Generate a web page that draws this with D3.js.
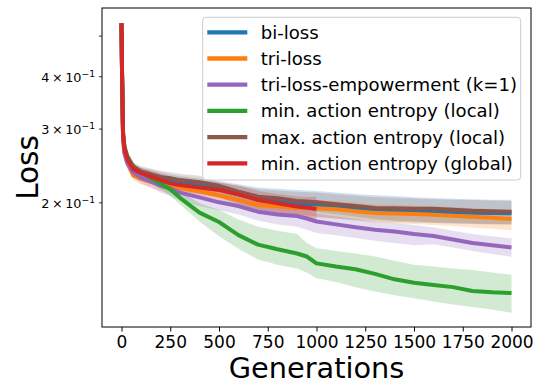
<!DOCTYPE html>
<html><head><meta charset="utf-8">
<script src="https://cdn.jsdelivr.net/npm/d3@7"></script>
<style>
body{margin:0;background:#fff;}
svg{font-family:"DejaVu Sans",sans-serif;display:block;}
</style></head>
<body><svg id="c" width="540" height="385"></svg>
<script>
const generations = [0, 3, 8, 15, 30, 60, 100, 150, 200, 250, 300, 400, 500, 600, 700, 800, 900, 950, 1000, 1100, 1200, 1300, 1400, 1500, 1600, 1700, 1800, 1900, 2000];

const biLossMean  = [0.535, 0.40, 0.29, 0.268, 0.252, 0.241, 0.235, 0.231, 0.228, 0.225, 0.223, 0.219, 0.215, 0.209, 0.204, 0.2015, 0.199, 0.198, 0.197, 0.1955, 0.194, 0.1925, 0.1915, 0.1908, 0.19, 0.1895, 0.189, 0.1885, 0.1883];
const biLossUpper = [0.54, 0.41, 0.297, 0.274, 0.258, 0.247, 0.242, 0.239, 0.236, 0.233, 0.231, 0.228, 0.225, 0.221, 0.217, 0.2155, 0.214, 0.2135, 0.213, 0.211, 0.2095, 0.208, 0.207, 0.2058, 0.2048, 0.204, 0.2035, 0.203, 0.2028];
const biLossLower = [0.53, 0.39, 0.283, 0.262, 0.246, 0.235, 0.228, 0.223, 0.22, 0.217, 0.215, 0.21, 0.206, 0.198, 0.192, 0.189, 0.187, 0.186, 0.185, 0.183, 0.1815, 0.1805, 0.1795, 0.179, 0.1785, 0.178, 0.1775, 0.177, 0.1768];

const triLossMean  = [0.535, 0.40, 0.285, 0.262, 0.248, 0.232, 0.2275, 0.224, 0.220, 0.2175, 0.2165, 0.2125, 0.208, 0.2025, 0.197, 0.1955, 0.194, 0.1938, 0.1935, 0.1925, 0.1905, 0.1885, 0.188, 0.1875, 0.1868, 0.1858, 0.1848, 0.1838, 0.1825];
const triLossUpper = [0.54, 0.41, 0.292, 0.268, 0.254, 0.238, 0.234, 0.231, 0.227, 0.225, 0.224, 0.220, 0.216, 0.211, 0.206, 0.2045, 0.203, 0.2028, 0.2025, 0.2015, 0.1995, 0.1975, 0.197, 0.1965, 0.1958, 0.1948, 0.1938, 0.1928, 0.1915];
const triLossLower = [0.53, 0.39, 0.278, 0.256, 0.242, 0.226, 0.221, 0.217, 0.213, 0.210, 0.209, 0.205, 0.200, 0.194, 0.188, 0.186, 0.1845, 0.1842, 0.1838, 0.1828, 0.1808, 0.1788, 0.1782, 0.1775, 0.1765, 0.1755, 0.1742, 0.173, 0.1717];

const empowermentMean  = [0.535, 0.40, 0.285, 0.262, 0.248, 0.236, 0.229, 0.2245, 0.219, 0.216, 0.211, 0.2055, 0.200, 0.196, 0.190, 0.187, 0.1855, 0.183, 0.180, 0.1772, 0.1745, 0.172, 0.1703, 0.168, 0.1662, 0.163, 0.160, 0.158, 0.1561];
const empowermentUpper = [0.54, 0.41, 0.292, 0.268, 0.254, 0.242, 0.236, 0.232, 0.227, 0.224, 0.219, 0.2135, 0.2075, 0.2035, 0.198, 0.195, 0.1935, 0.191, 0.188, 0.185, 0.1825, 0.18, 0.1785, 0.1765, 0.1745, 0.171, 0.168, 0.166, 0.1641];
const empowermentLower = [0.53, 0.39, 0.278, 0.256, 0.242, 0.230, 0.222, 0.217, 0.211, 0.207, 0.202, 0.196, 0.1915, 0.187, 0.181, 0.177, 0.175, 0.172, 0.169, 0.167, 0.1645, 0.162, 0.160, 0.158, 0.1588, 0.156, 0.153, 0.1505, 0.1483];

const minLocalMean  = [0.535, 0.40, 0.295, 0.272, 0.258, 0.244, 0.236, 0.229, 0.2215, 0.215, 0.205, 0.189, 0.1795, 0.167, 0.1585, 0.1545, 0.151, 0.1485, 0.143, 0.1405, 0.1385, 0.135, 0.131, 0.1285, 0.127, 0.1255, 0.1228, 0.122, 0.1215];
const minLocalUpper = [0.54, 0.41, 0.30, 0.277, 0.262, 0.248, 0.240, 0.233, 0.227, 0.221, 0.213, 0.199, 0.192, 0.182, 0.175, 0.171, 0.168, 0.160, 0.1555, 0.153, 0.151, 0.1485, 0.145, 0.142, 0.1405, 0.139, 0.1378, 0.136, 0.1344];
const minLocalLower = [0.53, 0.39, 0.29, 0.267, 0.253, 0.239, 0.231, 0.224, 0.215, 0.207, 0.198, 0.180, 0.166, 0.155, 0.146, 0.142, 0.139, 0.136, 0.1317, 0.129, 0.1255, 0.1225, 0.120, 0.118, 0.116, 0.114, 0.1125, 0.111, 0.109];

const maxLocalMean  = [0.535, 0.40, 0.29, 0.27, 0.255, 0.243, 0.237, 0.2335, 0.230, 0.2282, 0.226, 0.2235, 0.219, 0.212, 0.2063, 0.2045, 0.2015, 0.201, 0.200, 0.1978, 0.196, 0.194, 0.1935, 0.1932, 0.193, 0.192, 0.191, 0.1905, 0.190];
const maxLocalUpper = [0.54, 0.41, 0.297, 0.276, 0.261, 0.249, 0.244, 0.241, 0.238, 0.236, 0.234, 0.2315, 0.2235, 0.219, 0.215, 0.2135, 0.212, 0.2115, 0.211, 0.209, 0.2075, 0.206, 0.205, 0.2042, 0.2035, 0.203, 0.2025, 0.202, 0.2015];
const maxLocalLower = [0.53, 0.39, 0.283, 0.264, 0.249, 0.237, 0.230, 0.226, 0.222, 0.220, 0.218, 0.215, 0.212, 0.203, 0.197, 0.195, 0.192, 0.191, 0.190, 0.1875, 0.185, 0.1825, 0.181, 0.180, 0.179, 0.1785, 0.178, 0.1775, 0.1775];

const minGlobalGenerations = generations.slice(0, 19);
const minGlobalMean  = [0.535, 0.40, 0.29, 0.27, 0.253, 0.240, 0.235, 0.2303, 0.226, 0.222, 0.220, 0.217, 0.214, 0.209, 0.2025, 0.1989, 0.1955, 0.1945, 0.1928];
const minGlobalUpper = [0.54, 0.41, 0.298, 0.277, 0.26, 0.247, 0.242, 0.238, 0.234, 0.230, 0.228, 0.2255, 0.223, 0.219, 0.213, 0.2095, 0.2065, 0.206, 0.2063];
const minGlobalLower = [0.53, 0.39, 0.282, 0.263, 0.246, 0.233, 0.228, 0.223, 0.218, 0.214, 0.212, 0.209, 0.205, 0.199, 0.192, 0.188, 0.184, 0.1825, 0.1815];

const seriesNames = ["bi-loss", "tri-loss", "tri-loss-empowerment (k=1)", "min. action entropy (local)", "max. action entropy (local)", "min. action entropy (global)"];
const seriesColors = ["#1f77b4", "#ff7f0e", "#9467bd", "#2ca02c", "#8c564b", "#d62728"];

const xTickValues = [0, 250, 500, 750, 1000, 1250, 1500, 1750, 2000];
const yTickValues = [0.2, 0.3, 0.4, 0.5];
const yTickMantissas = ["2", "3", "4", ""];

const series = [
  {g: generations, m: biLossMean, u: biLossUpper, l: biLossLower},
  {g: generations, m: triLossMean, u: triLossUpper, l: triLossLower},
  {g: generations, m: empowermentMean, u: empowermentUpper, l: empowermentLower},
  {g: generations, m: minLocalMean, u: minLocalUpper, l: minLocalLower},
  {g: generations, m: maxLocalMean, u: maxLocalUpper, l: maxLocalLower},
  {g: minGlobalGenerations, m: minGlobalMean, u: minGlobalUpper, l: minGlobalLower}
].map((s, i) => ({name: seriesNames[i], color: seriesColors[i],
  pts: s.g.map((gen, j) => ({gen, m: s.m[j], u: s.u[j], l: s.l[j]}))}));

const L = 102, R = 531, T = 8, B = 327;
const svg = d3.select("#c");
const x = d3.scaleLinear().domain([-100, 2100]).range([L, R]);
const y = d3.scaleLog().domain([0.1008, 0.582]).range([B, T]);

const clip = svg.append("defs").append("clipPath").attr("id", "pc");
clip.append("rect").attr("x", L).attr("y", T).attr("width", R - L).attr("height", B - T);
const plot = svg.append("g").attr("clip-path", "url(#pc)");

const area = d3.area().x(d => x(d.gen)).y0(d => y(d.l)).y1(d => y(d.u));
const line = d3.line().x(d => x(d.gen)).y(d => y(d.m));

series.forEach(s => {
  plot.append("path").attr("d", area(s.pts)).attr("fill", s.color).attr("fill-opacity", 0.22).attr("stroke", "none");
});
series.forEach(s => {
  plot.append("path").attr("d", line(s.pts)).attr("fill", "none").attr("stroke", s.color)
    .attr("stroke-width", 4).attr("stroke-linejoin", "round");
});

// axes
const xAxis = svg.append("g").attr("transform", `translate(0,${B})`)
  .call(d3.axisBottom(x).tickValues(xTickValues).tickSize(4.5).tickPadding(4).tickFormat(d3.format("d")));
xAxis.select(".domain").remove();
xAxis.selectAll("line").attr("stroke", "#000").attr("stroke-width", 1);
xAxis.selectAll("text").attr("font-size", 17).attr("fill", "#000").attr("font-family", "DejaVu Sans");

const yAxis = svg.append("g").attr("transform", `translate(${L},0)`)
  .call(d3.axisLeft(y).tickValues(yTickValues).tickSize(3).tickPadding(4).tickFormat(() => ""));
yAxis.select(".domain").remove();
yAxis.selectAll("line").attr("stroke", "#000").attr("stroke-width", 0.8);
yAxis.selectAll(".tick text").each(function(d, i) {
  const t = d3.select(this).attr("font-size", 12.8).attr("fill", "#000").attr("font-family", "DejaVu Sans").attr("dy", "0.42em");
  if (!yTickMantissas[i]) return;
  t.append("tspan").text(yTickMantissas[i] + "\u2009\u00d7\u200910");
  t.append("tspan").attr("font-size", 9.2).attr("dy", "-0.55em").text("\u22121");
});

svg.append("rect").attr("x", L).attr("y", T).attr("width", R - L).attr("height", B - T)
  .attr("fill", "none").attr("stroke", "#000").attr("stroke-width", 1);

svg.append("text").attr("x", (L + R) / 2).attr("y", 377.5).attr("text-anchor", "middle")
  .attr("font-size", 28.8).attr("fill", "#000").text("Generations");
svg.append("text").attr("transform", `translate(38,${(T + B) / 2}) rotate(-90)`).attr("text-anchor", "middle")
  .attr("font-size", 29.5).attr("fill", "#000").text("Loss");

// legend
const lg = svg.append("g");
lg.append("rect").attr("x", 202.7).attr("y", 17.3).attr("width", 318).attr("height", 162.7).attr("rx", 3.5)
  .attr("fill", "#fff").attr("fill-opacity", 0.8).attr("stroke", "#cccccc").attr("stroke-width", 1);
series.forEach((s, i) => {
  const cy = 32.3 + i * 26.2;
  lg.append("line").attr("x1", 207.3).attr("x2", 247.3).attr("y1", cy).attr("y2", cy)
    .attr("stroke", s.color).attr("stroke-width", 4.3);
  lg.append("text").attr("x", 260.7).attr("y", cy).attr("dy", "0.36em").attr("font-size", 18.1)
    .attr("fill", "#000").text(s.name);
});
</script></body></html>
